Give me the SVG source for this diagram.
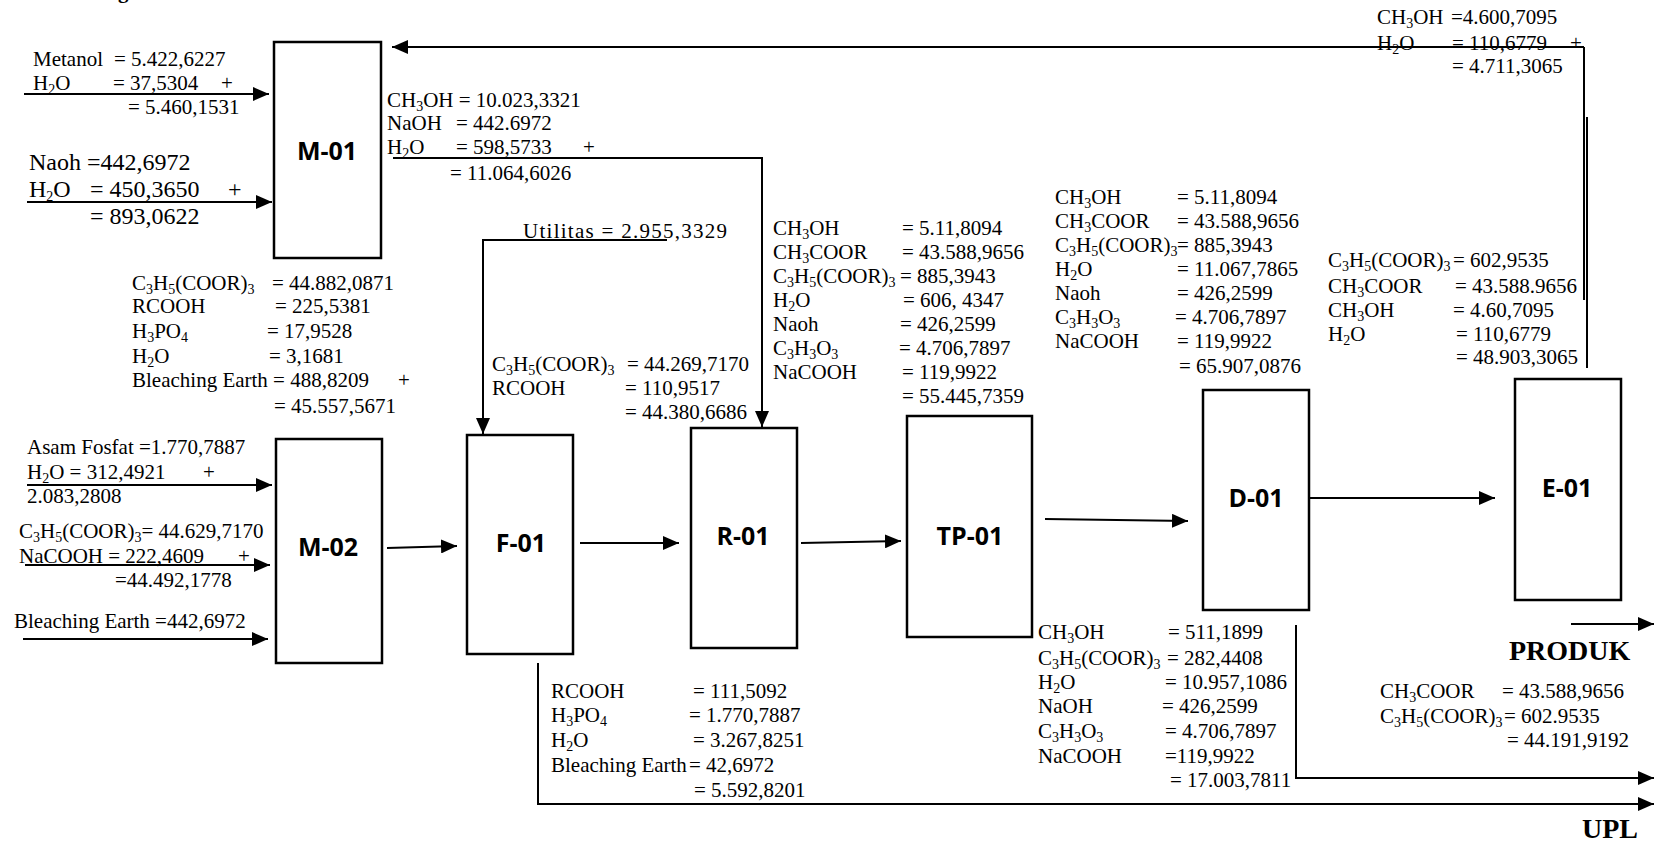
<svg xmlns="http://www.w3.org/2000/svg" width="1662" height="843" viewBox="0 0 1662 843">
<style>
text{font-family:"Liberation Serif","Times New Roman",serif;font-size:21px;fill:#000}
.lbl{font-family:"Open Sans","Liberation Sans",sans-serif;font-weight:700;font-size:25px;text-anchor:middle}
.big{font-size:24px}
.bt{font-weight:700;font-size:28px}
.s{font-size:14px}
.box{fill:#fff;stroke:#000;stroke-width:2.5}
.ln{fill:none;stroke:#000;stroke-width:2}
.ar{fill:none;stroke:#000;stroke-width:2;marker-end:url(#ah)}
</style>
<defs>
<marker id="ah" markerWidth="16" markerHeight="14" refX="16" refY="7" orient="auto" markerUnits="userSpaceOnUse"><path d="M0,0 L16,7 L0,14 z" fill="#000"/></marker>
</defs>
<rect width="1662" height="843" fill="#fff"/>
<text x="118" y="-2" font-weight="700" font-size="24">g</text>

<g id="connectors">
<path class="ar" d="M24,94 H269"/>
<path class="ar" d="M27,202 H272"/>
<path class="ar" d="M393,158 H762 V427"/>
<path class="ar" d="M667,240 H483 V434"/>
<path class="ar" d="M27,485 H272"/>
<path class="ar" d="M25,565 H270"/>
<path class="ar" d="M23,639 H268"/>
<path class="ar" d="M387,548 L457,546"/>
<path class="ar" d="M580,543 H679"/>
<path class="ar" d="M801,543 L901,541"/>
<path class="ar" d="M1045,519 L1188,521"/>
<path class="ar" d="M1307,498 H1495"/>
<path class="ar" d="M1584,47 H392"/>
<path class="ln" d="M1584,47 V300"/>
<path class="ln" d="M1587,117 V368"/>
<path class="ar" d="M1571,624 H1654"/>
<path class="ar" d="M1296,625 V778 H1654"/>
<path class="ar" d="M538,663 V804 H1654"/>
</g>

<g id="M-01"><rect class="box" x="274" y="42" width="107" height="216"/><text class="lbl" x="327" y="160">M-01</text></g>
<g id="M-02"><rect class="box" x="276" y="439" width="106" height="224"/><text class="lbl" x="328" y="556">M-02</text></g>
<g id="F-01"><rect class="box" x="467" y="435" width="106" height="219"/><text class="lbl" x="521" y="552">F-01</text></g>
<g id="R-01"><rect class="box" x="691" y="428" width="106" height="220"/><text class="lbl" x="743" y="545">R-01</text></g>
<g id="TP-01"><rect class="box" x="907" y="416" width="125" height="221"/><text class="lbl" x="970" y="545">TP-01</text></g>
<g id="D-01"><rect class="box" x="1203" y="390" width="106" height="220"/><text class="lbl" x="1256" y="507">D-01</text></g>
<g id="E-01"><rect class="box" x="1515" y="379" width="106" height="221"/><text class="lbl" x="1567" y="497">E-01</text></g>

<g id="feed-metanol">
<text x="33" y="66">Metanol</text><text x="114" y="66">= 5.422,6227</text>
<text x="33" y="90">H<tspan class="s" dy="4">2</tspan><tspan dy="-4">O</tspan></text><text x="113" y="90">= 37,5304</text><text x="221" y="90">+</text>
<text x="128" y="114">= 5.460,1531</text>
</g>
<g id="feed-naoh">
<text class="big" x="29" y="170">Naoh =442,6972</text>
<text class="big" x="29" y="197">H<tspan class="s" dy="4">2</tspan><tspan dy="-4">O</tspan></text><text class="big" x="90" y="197">= 450,3650</text><text class="big" x="228" y="197">+</text>
<text class="big" x="90" y="224">= 893,0622</text>
</g>
<g id="out-m01">
<text x="387" y="107">CH<tspan class="s" dy="4">3</tspan><tspan dy="-4">OH = 10.023,3321</tspan></text>
<text x="387" y="130">NaOH</text><text x="456" y="130">= 442.6972</text>
<text x="387" y="154">H<tspan class="s" dy="4">2</tspan><tspan dy="-4">O</tspan></text><text x="456" y="154">= 598,5733</text><text x="583" y="154">+</text>
<text x="450" y="180">= 11.064,6026</text>
</g>
<g id="utilitas"><text x="523" y="238" font-size="23" textLength="204" lengthAdjust="spacing">Utilitas = 2.955,3329</text></g>
<g id="mid-left">
<text x="132" y="290">C<tspan class="s" dy="4">3</tspan><tspan dy="-4">H</tspan><tspan class="s" dy="4">5</tspan><tspan dy="-4">(COOR)</tspan><tspan class="s" dy="4">3</tspan></text><text x="272" y="290">= 44.882,0871</text>
<text x="132" y="313">RCOOH</text><text x="275" y="313">= 225,5381</text>
<text x="132" y="338">H<tspan class="s" dy="4">3</tspan><tspan dy="-4">PO</tspan><tspan class="s" dy="4">4</tspan></text><text x="267" y="338">= 17,9528</text>
<text x="132" y="363">H<tspan class="s" dy="4">2</tspan><tspan dy="-4">O</tspan></text><text x="269" y="363">= 3,1681</text>
<text x="132" y="387">Bleaching Earth = 488,8209</text><text x="398" y="387">+</text>
<text x="274" y="413">= 45.557,5671</text>
</g>
<g id="feed-m02">
<text x="27" y="454">Asam Fosfat =1.770,7887</text>
<text x="27" y="479">H<tspan class="s" dy="4">2</tspan><tspan dy="-4">O = 312,4921</tspan></text><text x="203" y="479">+</text>
<text x="27" y="503">2.083,2808</text>
<text x="19" y="538">C<tspan class="s" dy="4">3</tspan><tspan dy="-4">H</tspan><tspan class="s" dy="4">5</tspan><tspan dy="-4">(COOR)</tspan><tspan class="s" dy="4">3</tspan><tspan dy="-4">= 44.629,7170</tspan></text>
<text x="19" y="563">NaCOOH = 222,4609</text><text x="238" y="563">+</text>
<text x="115" y="587">=44.492,1778</text>
<text x="14" y="628">Bleaching Earth =442,6972</text>
</g>
<g id="in-f01">
<text x="492" y="371">C<tspan class="s" dy="4">3</tspan><tspan dy="-4">H</tspan><tspan class="s" dy="4">5</tspan><tspan dy="-4">(COOR)</tspan><tspan class="s" dy="4">3</tspan></text><text x="627" y="371">= 44.269,7170</text>
<text x="492" y="395">RCOOH</text><text x="625" y="395">= 110,9517</text>
<text x="625" y="419">= 44.380,6686</text>
</g>
<g id="in-r01">
<text x="773" y="235">CH<tspan class="s" dy="4">3</tspan><tspan dy="-4">OH</tspan></text><text x="902" y="235">= 5.11,8094</text>
<text x="773" y="259">CH<tspan class="s" dy="4">3</tspan><tspan dy="-4">COOR</tspan></text><text x="902" y="259">= 43.588,9656</text>
<text x="773" y="283">C<tspan class="s" dy="4">3</tspan><tspan dy="-4">H</tspan><tspan class="s" dy="4">5</tspan><tspan dy="-4">(COOR)</tspan><tspan class="s" dy="4">3</tspan></text><text x="900" y="283">=  885,3943</text>
<text x="773" y="307">H<tspan class="s" dy="4">2</tspan><tspan dy="-4">O</tspan></text><text x="903" y="307">= 606, 4347</text>
<text x="773" y="331">Naoh</text><text x="900" y="331">= 426,2599</text>
<text x="773" y="355">C<tspan class="s" dy="4">3</tspan><tspan dy="-4">H</tspan><tspan class="s" dy="4">3</tspan><tspan dy="-4">O</tspan><tspan class="s" dy="4">3</tspan></text><text x="899" y="355">= 4.706,7897</text>
<text x="773" y="379">NaCOOH</text><text x="902" y="379">= 119,9922</text>
<text x="902" y="403">= 55.445,7359</text>
</g>
<g id="in-d01">
<text x="1055" y="204">CH<tspan class="s" dy="4">3</tspan><tspan dy="-4">OH</tspan></text><text x="1177" y="204">= 5.11,8094</text>
<text x="1055" y="228">CH<tspan class="s" dy="4">3</tspan><tspan dy="-4">COOR</tspan></text><text x="1177" y="228">= 43.588,9656</text>
<text x="1055" y="252">C<tspan class="s" dy="4">3</tspan><tspan dy="-4">H</tspan><tspan class="s" dy="4">5</tspan><tspan dy="-4">(COOR)</tspan><tspan class="s" dy="4">3</tspan></text><text x="1177" y="252">=  885,3943</text>
<text x="1055" y="276">H<tspan class="s" dy="4">2</tspan><tspan dy="-4">O</tspan></text><text x="1177" y="276">= 11.067,7865</text>
<text x="1055" y="300">Naoh</text><text x="1177" y="300">= 426,2599</text>
<text x="1055" y="324">C<tspan class="s" dy="4">3</tspan><tspan dy="-4">H</tspan><tspan class="s" dy="4">3</tspan><tspan dy="-4">O</tspan><tspan class="s" dy="4">3</tspan></text><text x="1175" y="324">= 4.706,7897</text>
<text x="1055" y="348">NaCOOH</text><text x="1177" y="348">= 119,9922</text>
<text x="1179" y="373">= 65.907,0876</text>
</g>
<g id="in-e01">
<text x="1328" y="267">C<tspan class="s" dy="4">3</tspan><tspan dy="-4">H</tspan><tspan class="s" dy="4">5</tspan><tspan dy="-4">(COOR)</tspan><tspan class="s" dy="4">3</tspan></text><text x="1453" y="267">= 602,9535</text>
<text x="1328" y="293">CH<tspan class="s" dy="4">3</tspan><tspan dy="-4">COOR</tspan></text><text x="1455" y="293">= 43.588.9656</text>
<text x="1328" y="317">CH<tspan class="s" dy="4">3</tspan><tspan dy="-4">OH</tspan></text><text x="1453" y="317">= 4.60,7095</text>
<text x="1328" y="341">H<tspan class="s" dy="4">2</tspan><tspan dy="-4">O</tspan></text><text x="1456" y="341">= 110,6779</text>
<text x="1456" y="364">= 48.903,3065</text>
</g>
<g id="recycle">
<text x="1377" y="24">CH<tspan class="s" dy="4">3</tspan><tspan dy="-4">OH</tspan></text><text x="1451" y="24">=4.600,7095</text>
<text x="1377" y="50">H<tspan class="s" dy="4">2</tspan><tspan dy="-4">O</tspan></text><text x="1452" y="50">= 110,6779</text><text x="1570" y="50">+</text>
<text x="1452" y="73">= 4.711,3065</text>
</g>
<g id="out-f01">
<text x="551" y="698">RCOOH</text><text x="693" y="698">= 111,5092</text>
<text x="551" y="722">H<tspan class="s" dy="4">3</tspan><tspan dy="-4">PO</tspan><tspan class="s" dy="4">4</tspan></text><text x="689" y="722">= 1.770,7887</text>
<text x="551" y="747">H<tspan class="s" dy="4">2</tspan><tspan dy="-4">O</tspan></text><text x="693" y="747">= 3.267,8251</text>
<text x="551" y="772">Bleaching Earth</text><text x="689" y="772">= 42,6972</text>
<text x="694" y="797">= 5.592,8201</text>
</g>
<g id="out-d01">
<text x="1038" y="639">CH<tspan class="s" dy="4">3</tspan><tspan dy="-4">OH</tspan></text><text x="1168" y="639">= 511,1899</text>
<text x="1038" y="665">C<tspan class="s" dy="4">3</tspan><tspan dy="-4">H</tspan><tspan class="s" dy="4">5</tspan><tspan dy="-4">(COOR)</tspan><tspan class="s" dy="4">3</tspan></text><text x="1167" y="665">= 282,4408</text>
<text x="1038" y="689">H<tspan class="s" dy="4">2</tspan><tspan dy="-4">O</tspan></text><text x="1165" y="689">= 10.957,1086</text>
<text x="1038" y="713">NaOH</text><text x="1162" y="713">=  426,2599</text>
<text x="1038" y="738">C<tspan class="s" dy="4">3</tspan><tspan dy="-4">H</tspan><tspan class="s" dy="4">3</tspan><tspan dy="-4">O</tspan><tspan class="s" dy="4">3</tspan></text><text x="1165" y="738">= 4.706,7897</text>
<text x="1038" y="763">NaCOOH</text><text x="1165" y="763">=119,9922</text>
<text x="1170" y="787">= 17.003,7811</text>
</g>
<g id="produk">
<text class="bt" x="1509" y="660">PRODUK</text>
<text x="1380" y="698">CH<tspan class="s" dy="4">3</tspan><tspan dy="-4">COOR</tspan></text><text x="1502" y="698">= 43.588,9656</text>
<text x="1380" y="723">C<tspan class="s" dy="4">3</tspan><tspan dy="-4">H</tspan><tspan class="s" dy="4">5</tspan><tspan dy="-4">(COOR)</tspan><tspan class="s" dy="4">3</tspan></text><text x="1504" y="723">= 602.9535</text>
<text x="1507" y="747">= 44.191,9192</text>
</g>
<g id="upl"><text class="bt" x="1582" y="838">UPL</text></g>
</svg>
